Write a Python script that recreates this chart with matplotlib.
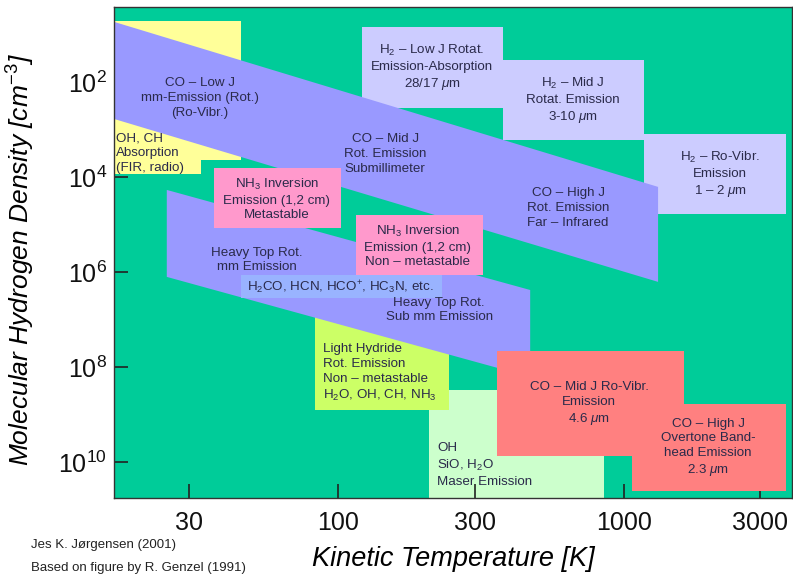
import matplotlib
matplotlib.use('Agg')
import matplotlib.pyplot as plt
from matplotlib.ticker import FixedLocator, FixedFormatter, NullLocator

plt.rcParams['font.family'] = ['Liberation Sans', 'DejaVu Sans']
plt.rcParams['mathtext.fontset'] = 'custom'
plt.rcParams['mathtext.rm'] = 'Liberation Sans'
plt.rcParams['mathtext.it'] = 'Liberation Sans:italic'
plt.rcParams['mathtext.bf'] = 'Liberation Sans:bold'

# ---------------- data (kinetic temperature T [K], density n [cm^-3]) -------------
T_range = [16.4, 3880]
n_range = [5.6e10, 2.58]          # inverted axis: high density at bottom

x_ticks = [30, 100, 300, 1000, 3000]
x_tick_labels = ['30', '100', '300', '1000', '3000']
y_ticks = [1e2, 1e4, 1e6, 1e8, 1e10]
y_tick_labels = [r'$\mathdefault{10^{2}}$', r'$\mathdefault{10^{4}}$', r'$\mathdefault{10^{6}}$',
                 r'$\mathdefault{10^{8}}$', r'$\mathdefault{10^{10}}$']

# OH, CH absorption (yellow, stepped)
ohch_T = [16.4, 45.7, 45.7, 33.1, 33.1, 16.4]
ohch_n = [5.07, 5.07, 4285, 4285, 8440, 8440]

# H2 boxes
h2_low_T = [121, 377, 377, 121]
h2_low_n = [6.79, 6.79, 344, 344]
h2_mid_T = [377, 1178, 1178, 377]
h2_mid_n = [33.6, 33.6, 1625, 1625]
h2_rv_T = [1178, 3690, 3690, 1178]
h2_rv_n = [1214, 1214, 5.87e4, 5.87e4]

# light hydride
lh_T = [83, 244.5, 244.5, 83]
lh_n = [3.8e6, 3.8e6, 7.85e8, 7.85e8]

# maser
maser_T = [208, 853, 853, 208]
maser_n = [2.98e8, 2.98e8, 5.6e10, 5.6e10]

# CO rotational band (low / mid / high J)
co_T = [16.4, 1318, 1318, 16.4]
co_n = [5.3, 1.58e4, 1.58e6, 586]

# heavy top band
ht_T = [25.1, 470, 470, 25.1]
ht_n = [1.83e4, 2.34e6, 1.58e8, 1.24e6]

# NH3 boxes
nh3m_T = [36.8, 102.3, 102.3, 36.8]
nh3m_n = [6310, 6310, 1.16e5, 1.16e5]
nh3n_T = [115.3, 321, 321, 115.3]
nh3n_n = [6.16e4, 6.16e4, 1.13e6, 1.13e6]

# H2CO strip
strip_T = [45.6, 230.5, 230.5, 45.6]
strip_n = [1.13e6, 1.13e6, 3.44e6, 3.44e6]

# CO ro-vibrational boxes
comid_T = [360, 1626, 1626, 360]
comid_n = [4.43e7, 4.43e7, 7.3e9, 7.3e9]
cohigh_T = [1067, 3690, 3690, 1067]
cohigh_n = [5.86e8, 5.86e8, 3.98e10, 3.98e10]

# labels: (T, n, text, ha)
labels = [
    (32.8, 212, 'CO – Low J\nmm-Emission (Rot.)\n(Ro-Vibr.)', 'center'),
    (16.6, 3050, 'OH, CH\nAbsorption\n(FIR, radio)', 'left'),
    (146, 3200, 'CO – Mid J\nRot. Emission\nSubmillimeter', 'center'),
    (638, 4.39e4, 'CO – High J\nRot. Emission\nFar – Infrared', 'center'),
    (213, 49.5, 'H$_2$ – Low J Rotat.\nEmission-Absorption\n28/17 $\\mu$m', 'center'),
    (664, 245, 'H$_2$ – Mid J\nRotat. Emission\n3-10 $\\mu$m', 'center'),
    (2173, 8850, 'H$_2$ – Ro-Vibr.\nEmission\n1 – 2 $\\mu$m', 'center'),
    (61, 2.84e4, 'NH$_3$ Inversion\nEmission (1,2 cm)\nMetastable', 'center'),
    (190, 2.77e5, 'NH$_3$ Inversion\nEmission (1,2 cm)\nNon – metastable', 'center'),
    (52, 5.46e5, 'Heavy Top Rot.\nmm Emission', 'center'),
    (101.5, 2.02e6, 'H$_2$CO, HCN, HCO$^{+}$, HC$_3$N, etc.', 'center'),
    (225.5, 6.15e6, 'Heavy Top Rot.\nSub mm Emission', 'center'),
    (88.5, 1.31e8, 'Light Hydride\nRot. Emission\nNon – metastable\nH$_2$O, OH, CH, NH$_3$', 'left'),
    (222, 1.13e10, 'OH\nSiO, H$_2$O\nMaser Emission', 'left'),
    (756, 5.86e8, 'CO – Mid J Ro-Vibr.\nEmission\n4.6 $\\mu$m', 'center'),
    (1972, 4.95e9, 'CO – High J\nOvertone Band-\nhead Emission\n2.3 $\\mu$m', 'center'),
]

# ---------------- figure -------------
fig = plt.figure(figsize=(7.93, 5.79), dpi=100)
ax = fig.add_axes([114/793, 1 - 498/579, (792 - 114)/793, (498 - 7)/579])
ax.set_xscale('log')
ax.set_yscale('log')
ax.set_xlim(T_range)
ax.set_ylim(n_range)
ax.set_facecolor('#00CC99')

yellow = '#FFFF99'
lav = '#CCCCFF'
blue = '#9999FF'
pink = '#FF99CC'
stripc = '#99B3FF'
lhc = '#CCFF66'
maserc = '#CCFFCC'
salmon = '#FF8080'

ax.fill(ohch_T, ohch_n, color=yellow, lw=0, zorder=1)
ax.fill(h2_low_T, h2_low_n, color=lav, lw=0, zorder=1)
ax.fill(h2_mid_T, h2_mid_n, color=lav, lw=0, zorder=1)
ax.fill(h2_rv_T, h2_rv_n, color=lav, lw=0, zorder=1)
ax.fill(maser_T, maser_n, color=maserc, lw=0, zorder=1)
ax.fill(lh_T, lh_n, color=lhc, lw=0, zorder=1.5)
ax.fill(co_T, co_n, color=blue, lw=0, zorder=2)
ax.fill(ht_T, ht_n, color=blue, lw=0, zorder=2)
ax.fill(nh3m_T, nh3m_n, color=pink, lw=0, zorder=3)
ax.fill(nh3n_T, nh3n_n, color=pink, lw=0, zorder=3)
ax.fill(strip_T, strip_n, color=stripc, lw=0, zorder=3)
ax.fill(comid_T, comid_n, color=salmon, lw=0, zorder=3)
ax.fill(cohigh_T, cohigh_n, color=salmon, lw=0, zorder=3)

tc = '#2a2a4a'
for T, n, s, ha in labels:
    ax.text(T, n, s, ha=ha, va='center', multialignment=ha, fontsize=9.6,
            color=tc, linespacing=1.3, zorder=5)

ax.xaxis.set_major_locator(FixedLocator(x_ticks))
ax.xaxis.set_major_formatter(FixedFormatter(x_tick_labels))
ax.xaxis.set_minor_locator(NullLocator())
ax.yaxis.set_major_locator(FixedLocator(y_ticks))
ax.yaxis.set_major_formatter(FixedFormatter(y_tick_labels))
ax.yaxis.set_minor_locator(NullLocator())
ax.tick_params(axis='both', which='major', direction='in', length=10, width=1.2,
               color='#222222', labelsize=18, labelcolor='#111111')
ax.tick_params(axis='x', pad=9)
ax.tick_params(axis='y', pad=5)
for sp in ax.spines.values():
    sp.set_color('#333333')
    sp.set_linewidth(1.0)
    sp.set_zorder(6)

ax.set_xlabel('Kinetic Temperature [K]', fontsize=19.5, style='italic', labelpad=8)
ax.set_ylabel('Molecular Hydrogen Density [cm$^{-3}$]', fontsize=19, style='italic')
ax.yaxis.set_label_coords(-0.113, 0.485)

fig.text(31/793, 1 - 545/579, 'Jes K. Jørgensen (2001)', fontsize=9.5, va='center', ha='left', color='#222222')
fig.text(31/793, 1 - 568/579, 'Based on figure by R. Genzel (1991)', fontsize=9.5, va='center', ha='left', color='#222222')

fig.savefig('out.png', dpi=100, facecolor='white')
